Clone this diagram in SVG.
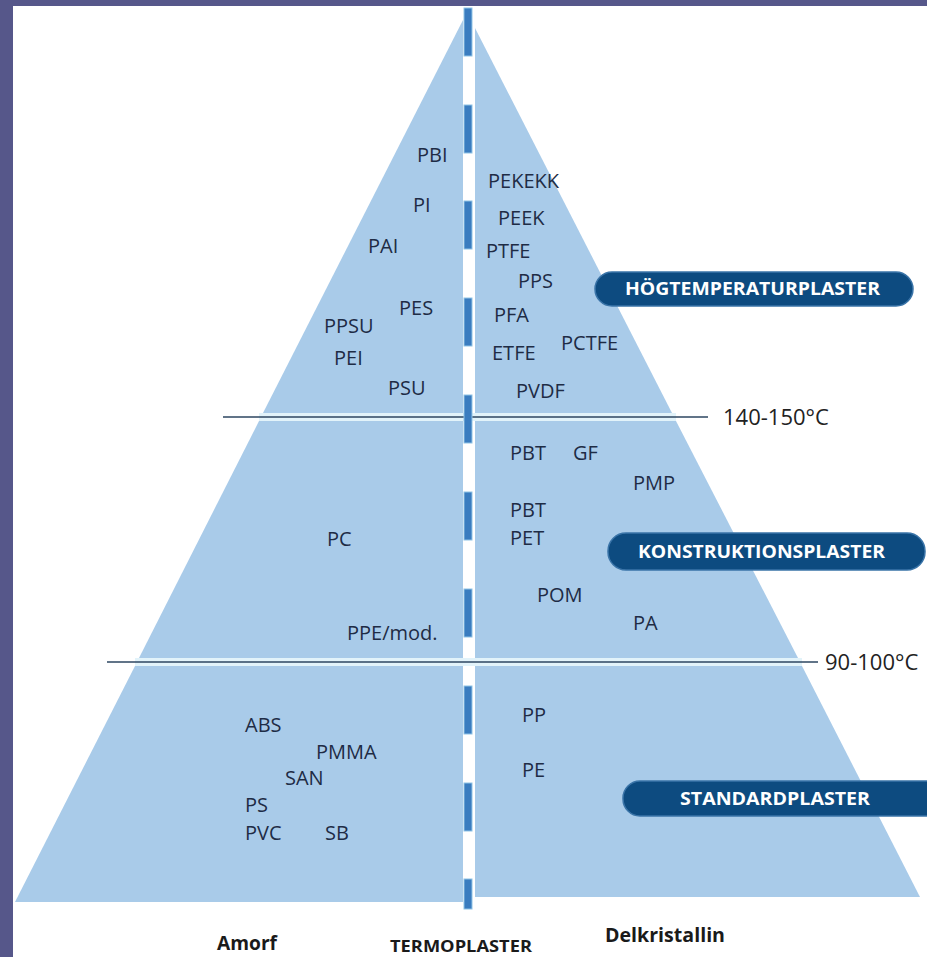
<svg xmlns="http://www.w3.org/2000/svg" width="927" height="957" viewBox="0 0 927 957">
<style>
.sec{fill:#a9cbe9}
.lbl{font-family:"Open Sans","Liberation Sans",sans-serif;font-size:20px;fill:#1e2c45}
.pill{fill:#0d4b80;stroke:#3a74a8;stroke-width:1.5}
.ptx{font-family:"Open Sans","Liberation Sans",sans-serif;font-weight:bold;font-size:17px;fill:#ffffff}
.dash{fill:#3a7cbf;stroke:#8fc3e6;stroke-width:1}
.div{stroke:#2c4660;stroke-width:1.5}
.band{fill:#e2f3fa}
.temp{font-family:"Open Sans","Liberation Sans",sans-serif;font-size:22px;fill:#222}
.bot{font-family:"Open Sans","Liberation Sans",sans-serif;font-weight:bold;fill:#1a1a1a}
</style>
<rect x="0" y="0" width="927" height="957" fill="#ffffff"/>
<rect x="0" y="0" width="927" height="6" fill="#56578a"/>
<rect x="0" y="0" width="13" height="957" fill="#56578a"/>

<g id="pyramid">
  <polygon class="sec" points="463,20 463,413 263,413"/>
  <polygon class="sec" points="463,421 259,421 139,658 463,658"/>
  <polygon class="sec" points="463,666 135,666 15,902 463,902"/>
  <polygon class="sec" points="475,28 672,413 475,413"/>
  <polygon class="sec" points="475,421 676,421 798,658 475,658"/>
  <polygon class="sec" points="475,666 802,666 920,897 475,897"/>
  <rect class="band" x="259" y="413" width="417" height="8"/>
  <rect class="band" x="135" y="658" width="667" height="8"/>
</g>

<g id="connectors">
  <line class="div" x1="223" y1="417" x2="708" y2="417"/>
  <line class="div" x1="107" y1="662" x2="818" y2="662"/>
  <g id="center-bar">
    <rect class="dash" x="464" y="8" width="8" height="48"/>
    <rect class="dash" x="464" y="105" width="8" height="48"/>
    <rect class="dash" x="464" y="201" width="8" height="48"/>
    <rect class="dash" x="464" y="298" width="8" height="48"/>
    <rect class="dash" x="464" y="395" width="8" height="48"/>
    <rect class="dash" x="464" y="492" width="8" height="48"/>
    <rect class="dash" x="464" y="589" width="8" height="48"/>
    <rect class="dash" x="464" y="686" width="8" height="48"/>
    <rect class="dash" x="464" y="783" width="8" height="48"/>
    <rect class="dash" x="464" y="879" width="8" height="30"/>
  </g>
</g>

<g id="upper-labels">
  <text class="lbl" x="417" y="162">PBI</text>
  <text class="lbl" x="488" y="188">PEKEKK</text>
  <text class="lbl" x="413" y="212">PI</text>
  <text class="lbl" x="498" y="225">PEEK</text>
  <text class="lbl" x="368" y="253">PAI</text>
  <text class="lbl" x="486" y="258">PTFE</text>
  <text class="lbl" x="518" y="288">PPS</text>
  <text class="lbl" x="399" y="315">PES</text>
  <text class="lbl" x="494" y="322">PFA</text>
  <text class="lbl" x="324" y="333">PPSU</text>
  <text class="lbl" x="561" y="350">PCTFE</text>
  <text class="lbl" x="334" y="365">PEI</text>
  <text class="lbl" x="492" y="360">ETFE</text>
  <text class="lbl" x="388" y="395">PSU</text>
  <text class="lbl" x="516" y="398">PVDF</text>
</g>

<g id="middle-labels">
  <text class="lbl" x="510" y="460">PBT</text>
  <text class="lbl" x="573" y="460">GF</text>
  <text class="lbl" x="633" y="490">PMP</text>
  <text class="lbl" x="510" y="517">PBT</text>
  <text class="lbl" x="510" y="545">PET</text>
  <text class="lbl" x="327" y="546">PC</text>
  <text class="lbl" x="537" y="602">POM</text>
  <text class="lbl" x="633" y="630">PA</text>
  <text class="lbl" x="347" y="640">PPE/mod.</text>
</g>

<g id="lower-labels">
  <text class="lbl" x="245" y="732">ABS</text>
  <text class="lbl" x="316" y="759">PMMA</text>
  <text class="lbl" x="285" y="785">SAN</text>
  <text class="lbl" x="245" y="812">PS</text>
  <text class="lbl" x="245" y="840">PVC</text>
  <text class="lbl" x="325" y="840">SB</text>
  <text class="lbl" x="522" y="722">PP</text>
  <text class="lbl" x="522" y="777">PE</text>
</g>

<g id="pill-hogtemperatur">
  <rect class="pill" x="595" y="272" width="318" height="34" rx="17"/>
  <text class="ptx" x="625" y="295" textLength="255" lengthAdjust="spacingAndGlyphs">HÖGTEMPERATURPLASTER</text>
</g>
<g id="pill-konstruktion">
  <rect class="pill" x="608" y="533" width="317" height="37" rx="18"/>
  <text class="ptx" x="638" y="558" textLength="247" lengthAdjust="spacingAndGlyphs">KONSTRUKTIONSPLASTER</text>
</g>
<g id="pill-standard">
  <rect class="pill" x="623" y="781" width="330" height="35" rx="17"/>
  <text class="ptx" x="680" y="805" textLength="190" lengthAdjust="spacingAndGlyphs">STANDARDPLASTER</text>
</g>

<g id="temp-labels">
  <text class="temp" x="723" y="425">140-150°C</text>
  <text class="temp" x="825" y="670">90-100°C</text>
</g>

<g id="bottom-labels">
  <text class="bot" x="217" y="950" font-size="20" textLength="60" lengthAdjust="spacingAndGlyphs">Amorf</text>
  <text class="bot" x="390" y="952" font-size="16" textLength="142" lengthAdjust="spacingAndGlyphs">TERMOPLASTER</text>
  <text class="bot" x="605" y="942" font-size="20" textLength="120" lengthAdjust="spacingAndGlyphs">Delkristallin</text>
</g>
</svg>
